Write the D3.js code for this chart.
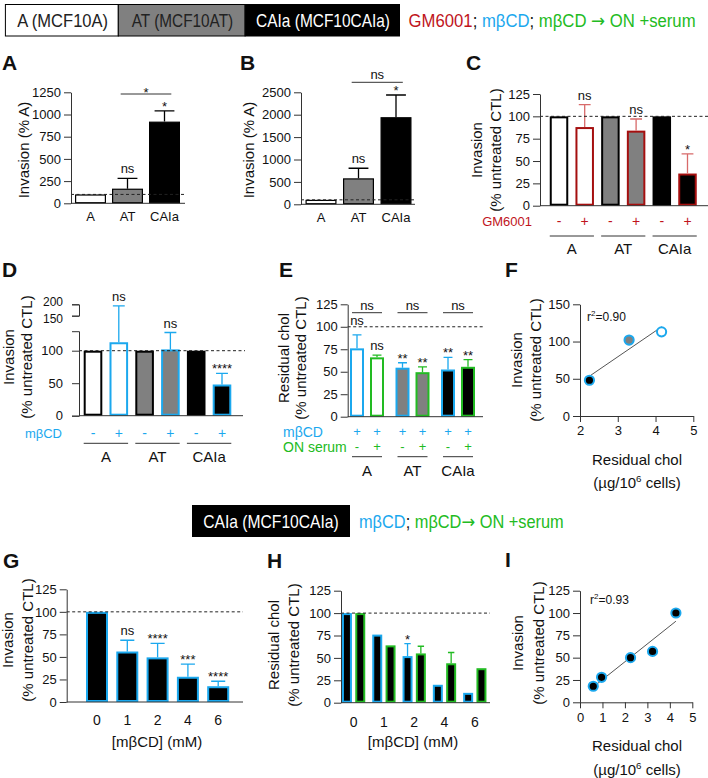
<!DOCTYPE html>
<html>
<head>
<meta charset="utf-8">
<script src="https://cdn.jsdelivr.net/npm/d3@7"></script>
<style>
  body { margin: 0; background: #fff; }
  svg text { font-family: "Liberation Sans", Arial, sans-serif; fill: #111; }
  .axis path, .axis line { stroke: #333; stroke-width: 1; }
  .axis text { font-family: "Liberation Sans", Arial, sans-serif; font-size: 13px; fill: #111; }
</style>
</head>
<body>
<div class="canvas"></div>
<script>
// ---- data ----
const cellLines = ["A", "AT", "CAIa"];
const headerBoxes = ["A (MCF10A)", "AT (MCF10AT)", "CAIa (MCF10CAIa)"];
const cellFills = ["#ffffff", "#808080", "#000000"];

// A: invasion, % of A
const invA = [100, 165, 920];
const invAErr = [0, 115, 120];
const sigA = ["", "ns", "*"];
// B
const invB = [100, 580, 1945];
const invBErr = [0, 225, 495];
const sigB = ["", "ns", "*"];
// C: GM6001
const gmCtl = [100, 100, 100];
const gmTreated = [88, 84, 36];
const gmErr = [25, 13, 22];
const sigC = ["ns", "ns", "*"];
// D: mbCD
const mbCtl = [100, 100, 100];
const mbTreated = [113, 102, 48];
const mbErr = [80, 26, 17];
const sigD = ["ns", "ns", "****"];
// E: residual cholesterol
const cholMb = [76, 54.5, 52.5];
const cholMbErr = [15, 5.5, 13.5];
const cholSerum = [66, 49.5, 55.5];
const cholSerumErr = [2.5, 6, 8];
const sigEMb = ["ns", "**", "**"];
const sigESerum = ["ns", "**", "**"];
// F: scatter
const residualF = [4.16, 3.3, 2.25];
const invasionF = [113, 102, 48];
// G: dose response
const doses = ["0", "1", "2", "4", "6"];
const invG = [100, 56, 49.5, 28, 17.5];
const invGErr = [0, 12.5, 15.5, 14, 5.5];
const sigG = ["", "ns", "****", "***", "****"];
// H
const cholH = [100, 76, 52, 20, 11];
const cholHErr = [0, 0, 14, 0, 0];
const cholHSerum = [100, 64, 55, 44, 38.5];
const cholHSerumErr = [0, 0, 8, 12, 0];
// I
const residualI = [4.27, 3.23, 2.25, 0.96, 0.59];
const invasionI = [100, 57, 50, 28, 18];

const BLUE = "#1ba8ee", GREEN = "#22bb22", RED = "#c0141c", RED_LT = "#d86a6a";
const fmt = d3.format("d");

const svg = d3.select(".canvas").append("svg")
  .attr("width", 708).attr("height", 778);

// ---- helpers ----
function bandAt(domain, c0, step, bw) {
  const pi = 1 - bw / step;
  return d3.scaleBand().domain(domain)
    .range([c0 - step / 2, c0 - step / 2 + step * domain.length])
    .paddingInner(pi).paddingOuter(pi / 2);
}

function label(x, y, t, size, opts = {}) {
  const el = svg.append("text").attr("x", x).attr("y", y)
    .attr("text-anchor", opts.anchor || "middle")
    .style("font-size", size + "px").text(t);
  if (opts.fill) el.style("fill", opts.fill);
  if (opts.bold) el.style("font-weight", "bold");
  return el;
}

function letter(x, y, t) { label(x, y, t, 21, { anchor: "start", bold: true }); }

function rotLabel(x, cy, t, size = 15) {
  svg.append("text")
    .attr("transform", `translate(${x},${cy}) rotate(-90)`)
    .attr("text-anchor", "middle").attr("dy", "0.35em")
    .style("font-size", size + "px").text(t);
}

function yAxis(scale, x, ticks, pad = 3, outer = 0) {
  return svg.append("g").attr("class", "axis")
    .attr("transform", `translate(${x},0)`)
    .call(d3.axisLeft(scale).tickValues(ticks).tickFormat(fmt)
      .tickSize(7).tickSizeOuter(outer).tickPadding(pad));
}

function hline(x1, x2, y, dashed) {
  svg.append("line").attr("x1", x1).attr("x2", x2).attr("y1", y).attr("y2", y)
    .attr("stroke", dashed ? "#222" : "#333").attr("stroke-width", 1)
    .attr("stroke-dasharray", dashed ? "3,2.5" : null);
}

function drawBars(rows, y, sw) {
  const g = svg.append("g");
  g.selectAll("rect").data(rows).join("rect")
    .attr("x", d => d.x + sw / 2)
    .attr("y", d => y(d.v) + sw / 2)
    .attr("width", d => d.w - sw)
    .attr("height", d => Math.max(0, y(0) - y(d.v) - sw))
    .attr("fill", d => d.fill)
    .attr("stroke", d => d.stroke)
    .attr("stroke-width", sw);
  g.selectAll("path").data(rows.filter(d => d.e > 0)).join("path")
    .attr("d", d => {
      const cx = d.x + d.w / 2, top = y(d.v + d.e), c = d.w * 0.32;
      return `M${cx},${y(d.v)}V${top}M${cx - c},${top}H${cx + c}`;
    })
    .attr("fill", "none")
    .attr("stroke", d => d.errColor || d.stroke)
    .attr("stroke-width", 1.3);
  // significance marks
  rows.filter(d => d.sig).forEach(d => {
    const top = y(d.v + d.e);
    label(d.x + d.w / 2, top - (d.sig === "ns" ? 5 : 0) - (d.sigLift || 0), d.sig, 13);
  });
}

function bracket(x1, x2, y, t) {
  hline(x1, x2, y, false);
  label((x1 + x2) / 2, t === "ns" ? y - 3 : y + 3, t, 13);
}

function linFit(xs, ys) {
  const mx = d3.mean(xs), my = d3.mean(ys);
  const b = d3.sum(xs, (x, i) => (x - mx) * (ys[i] - my)) / d3.sum(xs, x => (x - mx) ** 2);
  return [b, my - b * mx];
}

// header text: drawn at natural size, then squeezed to the width seen in the figure
function fitText(x, y, parts, width, anchor = "start") {
  const t = svg.append("text").attr("x", 0).attr("y", 0).style("font-size", "18px");
  parts.forEach(([s, c, fam]) => {
    const sp = t.append("tspan").style("fill", c).text(s);
    if (fam) sp.style("font-family", fam);
  });
  const w = t.node().getComputedTextLength();
  const x0 = anchor === "middle" ? x - width / 2 : x;
  t.attr("transform", `translate(${x0},${y}) scale(${width / w},1)`);
  return t;
}

function superLabel(x, y, pre, sup, post, size) {
  const t = label(x, y, pre, size);
  t.append("tspan").attr("dy", -6).style("font-size", (size * 0.65) + "px").text(sup);
  t.append("tspan").attr("dy", 6).text(post);
}

// ---- top header ----
const hdrX = [5.4, 118.3, 245.1], hdrW = [112.9, 126.8, 154.4], hdrLen = [91, 101.5, 134];
headerBoxes.forEach((t, i) => {
  svg.append("rect").attr("x", hdrX[i]).attr("y", 4.5).attr("width", hdrW[i]).attr("height", 31.5)
    .attr("fill", cellFills[i]).attr("stroke", "#000").attr("stroke-width", 1);
  fitText(hdrX[i] + hdrW[i] / 2 + 0.8, 26.5, [[t, i === 2 ? "#fff" : "#222"]], hdrLen[i], "middle");
});
fitText(408.6, 26.5, [
  ["GM6001", RED], ["; ", "#111"], ["mβCD", BLUE], ["; ", "#111"],
  ["mβCD ", GREEN], ["→", GREEN, "DejaVu Sans"], [" ON +serum", GREEN]
], 287);

// ---- panel A ----
letter(2, 70, "A");
const yA = d3.scaleLinear().domain([0, 1250]).range([203.3, 92.3]);
const xA = bandAt(cellLines, 90.5, 37, 31);
drawBars(cellLines.map((c, i) => ({ x: xA(c), w: xA.bandwidth(), v: invA[i], e: invAErr[i], fill: cellFills[i], stroke: "#000", sig: sigA[i] })), yA, 1.2);
hline(71, 185, yA(0));
hline(71, 185, yA(100), true);
yAxis(yA, 71, d3.range(0, 1251, 250));
cellLines.forEach(c => label(xA(c) + xA.bandwidth() / 2, 221, c, 13));
bracket(xA("AT") + xA.bandwidth() * 0.28, xA("CAIa") + xA.bandwidth() * 0.72, 94, "*");
rotLabel(24, 150, "Invasion (% A)");

// ---- panel B ----
letter(240, 70, "B");
const yB = d3.scaleLinear().domain([0, 2500]).range([204.3, 92.3]);
const xB = bandAt(cellLines, 321, 37.5, 31);
drawBars(cellLines.map((c, i) => ({ x: xB(c), w: xB.bandwidth(), v: invB[i], e: invBErr[i], fill: cellFills[i], stroke: "#000", sig: sigB[i] })), yB, 1.2);
hline(301, 415, yB(0));
hline(301, 415, yB(100), true);
yAxis(yB, 301, d3.range(0, 2501, 500));
cellLines.forEach(c => label(xB(c) + xB.bandwidth() / 2, 222, c, 13));
bracket(xB("AT") + xB.bandwidth() * 0.28, xB("CAIa") + xB.bandwidth() * 0.72, 82.3, "ns");
rotLabel(249, 150, "Invasion (% A)");

// ---- panel C ----
letter(466, 70, "C");
const yC = d3.scaleLinear().domain([0, 125]).range([205.7, 94]);
const keysC = cellLines.flatMap(c => [c + "-", c + "+"]);
const xC = bandAt(keysC, 559, 25.7, 18.5);
const rowsC = [];
cellLines.forEach((c, i) => {
  rowsC.push({ x: xC(c + "-"), w: xC.bandwidth(), v: gmCtl[i], e: 0, fill: cellFills[i], stroke: "#000" });
  rowsC.push({ x: xC(c + "+"), w: xC.bandwidth(), v: gmTreated[i], e: gmErr[i], fill: cellFills[i], stroke: "#a50f0f", errColor: RED_LT, sig: sigC[i] });
});
drawBars(rowsC, yC, 2);
hline(540, 708, yC(0));
hline(540, 708, yC(100), true);
yAxis(yC, 540, d3.range(0, 126, 25));
label(532, 226, "GM6001", 13, { anchor: "end", fill: RED });
keysC.forEach((k, i) => label(xC(k) + xC.bandwidth() / 2, 226, i % 2 ? "+" : "-", 14, { fill: RED }));
cellLines.forEach(c => {
  hline(xC(c + "-"), xC(c + "+") + xC.bandwidth(), 236);
  label((xC(c + "-") + xC(c + "+") + xC.bandwidth()) / 2, 254, c, 15);
});
rotLabel(477, 150, "Invasion");
rotLabel(496, 150, "(% untreated CTL)");

// ---- panel D (broken y axis) ----
letter(2, 277, "D");
const yD = d3.scaleLinear().domain([0, 130, 150, 200]).range([415.7, 331.2, 315.7, 304.3]);
const yDLow = d3.scaleLinear().domain([0, 130]).range([415.7, 331.2]);
const yDHigh = d3.scaleLinear().domain([150, 200]).range([315.7, 304.3]);
const xD = bandAt(keysC, 93, 25.8, 18.6);
const rowsD = [];
cellLines.forEach((c, i) => {
  rowsD.push({ x: xD(c + "-"), w: xD.bandwidth(), v: mbCtl[i], e: 0, fill: cellFills[i], stroke: "#000" });
  rowsD.push({ x: xD(c + "+"), w: xD.bandwidth(), v: mbTreated[i], e: mbErr[i], fill: cellFills[i], stroke: BLUE, sig: sigD[i] });
});
drawBars(rowsD, yD, 2);
hline(79, 243, yD(0));
hline(79, 245, yD(100), true);
yAxis(yDLow, 79, [0, 50, 100], 9, 7);
const upD = yAxis(yDHigh, 79, [150, 200], 9, 7);
upD.selectAll(".tick text")
  .style("font-size", "12px")
  .attr("dy", d => d === 200 ? "0.1em" : "0.6em");
label(62, 437.5, "mβCD", 13, { anchor: "end", fill: BLUE });
keysC.forEach((k, i) => label(xD(k) + xD.bandwidth() / 2, 438, i % 2 ? "+" : "-", 14, { fill: BLUE }));
cellLines.forEach(c => {
  hline(xD(c + "-"), xD(c + "+") + xD.bandwidth(), 443.3);
  label((xD(c + "-") + xD(c + "+") + xD.bandwidth()) / 2, 462, c, 15);
});
rotLabel(9, 357, "Invasion");
rotLabel(27, 357, "(% untreated CTL)");

// ---- panel E ----
letter(279, 277, "E");
const yE = d3.scaleLinear().domain([0, 125]).range([416.7, 304.3]);
const gE = bandAt(cellLines, 367, 45.5, 34);
const innerE = d3.scaleBand().domain([0, 1]).range([0, gE.bandwidth()]).paddingInner(0.3).paddingOuter(0);
const rowsE = [];
cellLines.forEach((c, i) => {
  rowsE.push({ x: gE(c) + innerE(0), w: innerE.bandwidth(), v: cholMb[i], e: cholMbErr[i], fill: cellFills[i], stroke: BLUE, sig: sigEMb[i], sigLift: i === 0 ? 5 : 0 });
  rowsE.push({ x: gE(c) + innerE(1), w: innerE.bandwidth(), v: cholSerum[i], e: cholSerumErr[i], fill: cellFills[i], stroke: GREEN, sig: sigESerum[i] });
});
drawBars(rowsE, yE, 2);
hline(347.7, 483, yE(0));
hline(347.7, 485, yE(100), true);
yAxis(yE, 347.7, d3.range(0, 126, 25));
label(283, 436.5, "mβCD", 14, { anchor: "start", fill: BLUE });
label(283, 451.5, "ON serum", 14, { anchor: "start", fill: GREEN });
cellLines.forEach(c => {
  [0, 1].forEach(j => {
    const cx = gE(c) + innerE(j) + innerE.bandwidth() / 2;
    label(cx, 436, "+", 13, { fill: BLUE });
    label(cx, 451, j ? "+" : "-", 13, { fill: GREEN });
  });
  hline(gE(c) + 2, gE(c) + gE.bandwidth() - 2, 456.7);
  label(gE(c) + gE.bandwidth() / 2, 476, c, 15);
  bracket(gE(c) + 2, gE(c) + gE.bandwidth() - 2, 312.7, "ns");
});
rotLabel(284, 358, "Residual chol");
rotLabel(301, 358, "(% untreated CTL)");

// ---- panel F ----
letter(505, 277, "F");
const xF = d3.scaleLinear().domain([2, 5]).range([580, 693.3]);
const yF = d3.scaleLinear().domain([0, 150]).range([416, 304.3]);
yAxis(yF, 580, [0, 50, 100, 150]);
svg.append("g").attr("class", "axis").attr("transform", `translate(0,${yF(0)})`)
  .call(d3.axisBottom(xF).tickValues([2, 3, 4, 5]).tickSize(6).tickSizeOuter(0).tickPadding(4)
    .tickFormat(fmt));
const [bF, aF] = linFit(residualF, invasionF);
const exF = d3.extent(residualF);
svg.append("line").attr("x1", xF(exF[0])).attr("y1", yF(aF + bF * exF[0]))
  .attr("x2", xF(exF[1])).attr("y2", yF(aF + bF * exF[1]))
  .attr("stroke", "#555").attr("stroke-width", 1);
svg.append("g").selectAll("circle").data(residualF).join("circle")
  .attr("cx", d => xF(d)).attr("cy", (d, i) => yF(invasionF[i])).attr("r", 4.6)
  .attr("fill", (d, i) => cellFills[i]).attr("stroke", BLUE).attr("stroke-width", 2);
const r2F = svg.append("text").attr("x", 587).attr("y", 321).style("font-size", "12px");
r2F.append("tspan").text("r");
r2F.append("tspan").attr("dy", -5).style("font-size", "8px").text("2");
r2F.append("tspan").attr("dy", 5).text("=0.90");
rotLabel(517, 360, "Invasion");
rotLabel(536, 360, "(% untreated CTL)");
label(637, 465, "Residual chol", 15);
superLabel(637, 488, "(µg/10", "6", " cells)", 15);

// ---- middle header ----
svg.append("rect").attr("x", 192).attr("y", 505).attr("width", 158).attr("height", 32).attr("fill", "#000");
fitText(271, 527.5, [["CAIa (MCF10CAIa)", "#fff"]], 135.6, "middle");
fitText(359, 527.5, [
  ["mβCD", BLUE], ["; ", "#111"], ["mβCD", GREEN], ["→", GREEN, "DejaVu Sans"], [" ON +serum", GREEN]
], 205);

// ---- panel G ----
letter(3, 568, "G");
const yG = d3.scaleLinear().domain([0, 125]).range([702, 589.3]);
const xG = bandAt(doses, 97, 30.3, 22);
drawBars(doses.map((d, i) => ({ x: xG(d), w: xG.bandwidth(), v: invG[i], e: invGErr[i], fill: "#000", stroke: BLUE, sig: sigG[i] })), yG, 2);
hline(66.7, 243, yG(0));
hline(66.7, 243, yG(100), true);
yAxis(yG, 66.7, d3.range(0, 126, 25));
doses.forEach(d => label(xG(d) + xG.bandwidth() / 2, 725, d, 14));
label(157, 747, "[mβCD] (mM)", 15);
rotLabel(8, 640, "Invasion");
rotLabel(28, 640, "(% untreated CTL)");

// ---- panel H ----
letter(267, 568, "H");
const yH = d3.scaleLinear().domain([0, 125]).range([702.7, 590.7]);
const gH = bandAt(doses, 353.6, 30.3, 23.3);
const innerH = d3.scaleBand().domain([0, 1]).range([0, gH.bandwidth()]).paddingInner(0.25).paddingOuter(0);
const rowsH = [];
doses.forEach((d, i) => {
  rowsH.push({ x: gH(d) + innerH(0), w: innerH.bandwidth(), v: cholH[i], e: cholHErr[i], fill: "#000", stroke: BLUE, sig: i === 2 ? "*" : "" });
  rowsH.push({ x: gH(d) + innerH(1), w: innerH.bandwidth(), v: cholHSerum[i], e: cholHSerumErr[i], fill: "#000", stroke: GREEN });
});
drawBars(rowsH, yH, 2);
hline(341, 490, yH(0));
hline(341, 490, yH(100), true);
yAxis(yH, 341, d3.range(0, 126, 25));
doses.forEach(d => label(gH(d) + gH.bandwidth() / 2, 726.5, d, 14));
label(413, 747, "[mβCD] (mM)", 15);
rotLabel(274, 645, "Residual chol");
rotLabel(294, 645, "(% untreated CTL)");

// ---- panel I ----
letter(505, 567, "I");
const xI = d3.scaleLinear().domain([0, 5]).range([580, 692.3]);
const yI = d3.scaleLinear().domain([0, 125]).range([702.3, 590.7]);
yAxis(yI, 580, d3.range(0, 126, 25));
svg.append("g").attr("class", "axis").attr("transform", `translate(0,${yI(0)})`)
  .call(d3.axisBottom(xI).tickValues(d3.range(0, 6)).tickSize(6).tickSizeOuter(0).tickPadding(4)
    .tickFormat(fmt));
const [bI, aI] = linFit(residualI, invasionI);
const exI = d3.extent(residualI);
svg.append("line").attr("x1", xI(exI[0])).attr("y1", yI(aI + bI * exI[0]))
  .attr("x2", xI(exI[1])).attr("y2", yI(aI + bI * exI[1]))
  .attr("stroke", "#555").attr("stroke-width", 1);
svg.append("g").selectAll("circle").data(residualI).join("circle")
  .attr("cx", d => xI(d)).attr("cy", (d, i) => yI(invasionI[i])).attr("r", 4.6)
  .attr("fill", "#000").attr("stroke", BLUE).attr("stroke-width", 2);
const r2I = svg.append("text").attr("x", 590).attr("y", 604).style("font-size", "12px");
r2I.append("tspan").text("r");
r2I.append("tspan").attr("dy", -5).style("font-size", "8px").text("2");
r2I.append("tspan").attr("dy", 5).text("=0.93");
rotLabel(518, 643, "Invasion");
rotLabel(539, 643, "(% untreated CTL)");
label(637, 751, "Residual chol", 15);
superLabel(637, 775, "(µg/10", "6", " cells)", 15);
</script>
</body>
</html>
